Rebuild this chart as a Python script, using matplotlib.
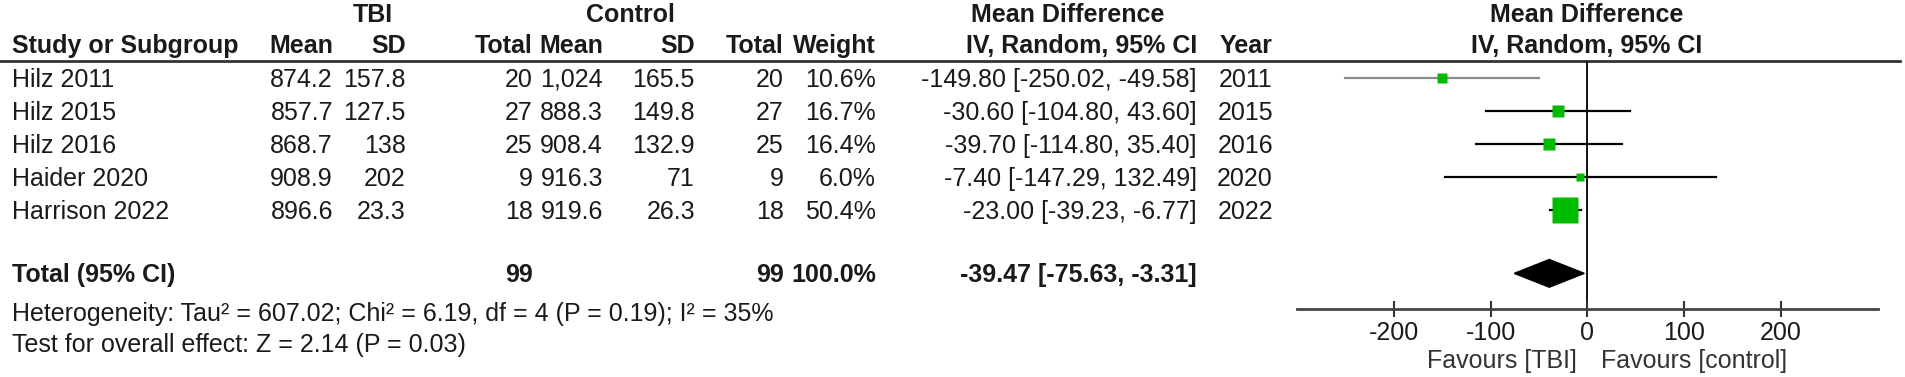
import matplotlib.pyplot as plt
from matplotlib.patches import Polygon

plt.rcParams['font.family'] = ['Liberation Sans', 'DejaVu Sans']

studies = ['Hilz 2011', 'Hilz 2015', 'Hilz 2016', 'Haider 2020', 'Harrison 2022']
tbi_mean = [874.2, 857.7, 868.7, 908.9, 896.6]
tbi_sd = [157.8, 127.5, 138, 202, 23.3]
tbi_n = [20, 27, 25, 9, 18]
ctl_mean = [1024, 888.3, 908.4, 916.3, 919.6]
ctl_sd = [165.5, 149.8, 132.9, 71, 26.3]
ctl_n = [20, 27, 25, 9, 18]
weight = [10.6, 16.7, 16.4, 6.0, 50.4]
md = [-149.80, -30.60, -39.70, -7.40, -23.00]
ci_lo = [-250.02, -104.80, -114.80, -147.29, -39.23]
ci_hi = [-49.58, 43.60, 35.40, 132.49, -6.77]
years = [2011, 2015, 2016, 2020, 2022]

total_tbi, total_ctl, total_w = 99, 99, 100.0
total_md, total_lo, total_hi = -39.47, -75.63, -3.31
heterogeneity = 'Heterogeneity: Tau² = 607.02; Chi² = 6.19, df = 4 (P = 0.19); I² = 35%'
overall = 'Test for overall effect: Z = 2.14 (P = 0.03)'
ticks = [-200, -100, 0, 100, 200]

W, H = 1906, 377
fig = plt.figure(figsize=(W / 100, H / 100), dpi=100)
tab = fig.add_axes([0, 0, 1, 1])
tab.set_xlim(0, W)
tab.set_ylim(H, 0)
tab.axis('off')

FS = 18
TXT = '#1a1a1a'
row0, step = 78, 33
total_row = 5.92
LEFT = 12


def ypx(r):
    return row0 + step * r


def num(v):
    return format(v, ',g')


# column right edges (px)
cols = [333, 406, 533, 603, 695, 784, 876, 1197, 1273]

# headers
for label, xc in [('TBI', 373), ('Control', 630), ('Mean Difference', 1068), ('Mean Difference', 1587)]:
    tab.text(xc, 22, label, ha='center', va='baseline', fontsize=FS, fontweight='bold', color=TXT)
tab.text(LEFT, 53, 'Study or Subgroup', ha='left', va='baseline', fontsize=FS, fontweight='bold', color=TXT)
for label, xr in zip(['Mean', 'SD', 'Total', 'Mean', 'SD', 'Total', 'Weight',
                      'IV, Random, 95% CI', 'Year'], cols):
    tab.text(xr, 53, label, ha='right', va='baseline', fontsize=FS, fontweight='bold', color=TXT)
tab.text(1587, 53, 'IV, Random, 95% CI', ha='center', va='baseline', fontsize=FS,
         fontweight='bold', color=TXT)
tab.axhline(61, xmin=0, xmax=1900 / W, color='#333333', lw=2.0)

# study rows
for i, s in enumerate(studies):
    yb = ypx(i) + 9
    tab.text(LEFT, yb, s, ha='left', va='baseline', fontsize=FS, color=TXT)
    vals = [num(tbi_mean[i]), num(tbi_sd[i]), str(tbi_n[i]), num(ctl_mean[i]),
            num(ctl_sd[i]), str(ctl_n[i]), f'{weight[i]:.1f}%',
            f'{md[i]:.2f} [{ci_lo[i]:.2f}, {ci_hi[i]:.2f}]', str(years[i])]
    for v, xr in zip(vals, cols):
        tab.text(xr, yb, v, ha='right', va='baseline', fontsize=FS, color=TXT)

# total row
yb = ypx(total_row) + 9
tab.text(LEFT, yb, 'Total (95% CI)', ha='left', va='baseline', fontsize=FS, fontweight='bold', color=TXT)
for v, xr in zip([str(total_tbi), str(total_ctl), f'{total_w:.1f}%',
                  f'{total_md:.2f} [{total_lo:.2f}, {total_hi:.2f}]'],
                 [cols[2], cols[5], cols[6], cols[7]]):
    tab.text(xr, yb, v, ha='right', va='baseline', fontsize=FS, fontweight='bold', color=TXT)
tab.text(LEFT, 321, heterogeneity, ha='left', va='baseline', fontsize=FS, color=TXT)
tab.text(LEFT, 352, overall, ha='left', va='baseline', fontsize=FS, color=TXT)

# forest plot
top, bot, left, right = 61, 309, 1297, 1878
ax = fig.add_axes([left / W, (H - bot) / H, (right - left) / W, (bot - top) / H])
ax.set_xlim(-300, 300)
ax.set_ylim((bot - row0) / step, (top - row0) / step)
ax.patch.set_alpha(0)
for sp in ['top', 'left', 'right']:
    ax.spines[sp].set_visible(False)
ax.spines['bottom'].set_color('#444444')
ax.spines['bottom'].set_linewidth(2.0)
ax.set_yticks([])
ax.set_xticks(ticks)
ax.set_xticklabels([str(t) for t in ticks], fontsize=FS, color=TXT)
ax.tick_params(axis='x', direction='inout', length=11, width=1.5, color='#333333', pad=3)
ax.axvline(0, color='black', lw=1.3, zorder=1)

for i in range(len(studies)):
    line_col = '#8a8a8a' if i == 0 else 'black'
    ax.plot([ci_lo[i], ci_hi[i]], [i, i], color=line_col, lw=1.6, zorder=2)
    side = 5 + 0.4 * weight[i]
    ax.plot(md[i], i, marker='s', ms=side * 0.72, color='#00bb00', mec='none', zorder=3)

hh = 0.42
ax.add_patch(Polygon([(total_lo, total_row), (total_md, total_row - hh),
                      (total_hi, total_row), (total_md, total_row + hh)],
                     closed=True, color='black', zorder=3))

tab.text(1577, 368, 'Favours [TBI]', ha='right', va='baseline', fontsize=FS, color='#333333')
tab.text(1601, 368, 'Favours [control]', ha='left', va='baseline', fontsize=FS, color='#333333')

fig.savefig('out.png', dpi=100)
